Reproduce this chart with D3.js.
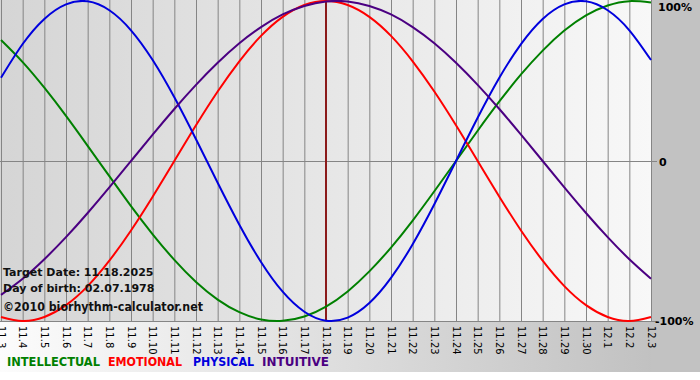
<!DOCTYPE html>
<html>
<head>
<meta charset="utf-8">
<script src="https://cdn.jsdelivr.net/npm/d3@7"></script>
<style>
  body { margin: 0; background: #fff; }
  svg { display: block; }
  text { font-family: "DejaVu Sans", Verdana, sans-serif; }
</style>
</head>
<body>
<div id="chart"></div>
<script>
// days shown on the x axis (11.3 .. 12.3)
var days = ["11.3","11.4","11.5","11.6","11.7","11.8","11.9","11.10","11.11","11.12",
  "11.13","11.14","11.15","11.16","11.17","11.18","11.19","11.20","11.21","11.22",
  "11.23","11.24","11.25","11.26","11.27","11.28","11.29","11.30","12.1","12.2","12.3"];

// values, one per day (-1 .. 1)
var intellectual = [0.756, 0.618, 0.458, 0.282, 0.095, -0.095, -0.282, -0.458, -0.618, -0.756,
  -0.866, -0.945, -0.990, -0.999, -0.972, -0.910, -0.815, -0.690, -0.541, -0.372,
  -0.189, 0.000, 0.189, 0.372, 0.541, 0.690, 0.815, 0.910, 0.972, 0.999, 0.990];
var emotional = [-0.975, -1.000, -0.975, -0.901, -0.782, -0.623, -0.434, -0.223, 0.000, 0.223,
  0.434, 0.623, 0.782, 0.901, 0.975, 1.000, 0.975, 0.901, 0.782, 0.623,
  0.434, 0.223, 0.000, -0.223, -0.434, -0.623, -0.782, -0.901, -0.975, -1.000, -0.975];
var physical = [0.520, 0.731, 0.888, 0.979, 0.998, 0.942, 0.817, 0.631, 0.398, 0.136,
  -0.136, -0.398, -0.631, -0.817, -0.942, -0.998, -0.979, -0.888, -0.731, -0.520,
  -0.270, 0.000, 0.270, 0.520, 0.731, 0.888, 0.979, 0.998, 0.942, 0.817, 0.631];
var intuitive = [-0.837, -0.736, -0.614, -0.476, -0.325, -0.165, 0.000, 0.165, 0.325, 0.476,
  0.614, 0.736, 0.837, 0.916, 0.969, 0.997, 0.997, 0.969, 0.916, 0.837,
  0.736, 0.614, 0.476, 0.325, 0.165, 0.000, -0.165, -0.325, -0.476, -0.614, -0.736];

var targetIndex = 15; // 11.18
var yTicks = [1, 0, -1];
var yTickLabels = ["100%", "0", "-100%"];

var series = [
  {name: "INTELLECTUAL", values: intellectual, color: "#008000"},
  {name: "EMOTIONAL", values: emotional, color: "#ff0000"},
  {name: "PHYSICAL", values: physical, color: "#0000dd"},
  {name: "INTUITIVE", values: intuitive, color: "#4b0082"}
];

var svgWidth = 700, svgHeight = 380;
var plot = {left: 1, right: 651, top: 1, bottom: 321};

var svg = d3.select("#chart").append("svg")
  .attr("width", svgWidth)
  .attr("height", svgHeight);

var defs = svg.append("defs");
var g1 = defs.append("linearGradient").attr("id", "plotBg")
  .attr("x1", "0").attr("x2", "1").attr("y1", "0").attr("y2", "0");
g1.append("stop").attr("offset", "0").attr("stop-color", "#d5d5d5");
g1.append("stop").attr("offset", "1").attr("stop-color", "#f8f8f8");
var g2 = defs.append("linearGradient").attr("id", "bottomBg")
  .attr("x1", "0").attr("x2", "1").attr("y1", "0").attr("y2", "0");
g2.append("stop").attr("offset", "0").attr("stop-color", "#fcfcfc");
g2.append("stop").attr("offset", "1").attr("stop-color", "#bdbdbd");

// backgrounds
svg.append("rect").attr("x", 0).attr("y", plot.bottom).attr("width", svgWidth)
  .attr("height", 372 - plot.bottom).attr("fill", "url(#bottomBg)");
svg.append("rect").attr("x", plot.right).attr("y", 0).attr("width", svgWidth - plot.right)
  .attr("height", 372).attr("fill", "#c2c2c2");
svg.append("rect").attr("x", 0).attr("y", 0).attr("width", plot.right)
  .attr("height", plot.bottom).attr("fill", "url(#plotBg)");

var x = d3.scaleLinear().domain([0, days.length - 1]).range([plot.left, plot.right]);
var y = d3.scaleLinear().domain([-1, 1]).range([plot.bottom, plot.top]);

// vertical grid
svg.append("g").selectAll("line").data(days).enter().append("line")
  .attr("x1", (d, i) => x(i) + 0.5).attr("x2", (d, i) => x(i) + 0.5)
  .attr("y1", 0).attr("y2", plot.bottom + 1)
  .attr("stroke", "#858585").attr("stroke-width", 1);

// horizontal lines at 0 / -100
svg.append("g").selectAll("line").data(yTicks.filter(d => d !== 1)).enter().append("line")
  .attr("x1", 0).attr("x2", plot.right + 6)
  .attr("y1", d => Math.round(y(d)) + 0.5).attr("y2", d => Math.round(y(d)) + 0.5)
  .attr("stroke", "#858585").attr("stroke-width", 1);

// x labels, rotated
svg.append("g").selectAll("text").data(days).enter().append("text")
  .attr("transform", (d, i) => `translate(${x(i) - 3.5}, ${plot.bottom + 5}) rotate(90)`)
  .attr("font-size", "10px")
  .attr("fill", "#000")
  .text(d => d);

// right labels
var rightX = [658, 659, 655];
var rightY = [11, 166, 325];
svg.append("g").selectAll("text").data(yTicks).enter().append("text")
  .attr("x", (d, i) => rightX[i])
  .attr("y", (d, i) => rightY[i])
  .attr("font-size", "11px").attr("font-weight", "bold")
  .text((d, i) => yTickLabels[i]);

// target date line
svg.append("line")
  .attr("x1", x(targetIndex)).attr("x2", x(targetIndex))
  .attr("y1", 0).attr("y2", plot.bottom)
  .attr("stroke", "#8b1a1a").attr("stroke-width", 2);

// curves
var line = d3.line()
  .x((d, i) => x(i))
  .y(d => y(d))
  .curve(d3.curveNatural);

svg.append("g").selectAll("path").data(series).enter().append("path")
  .attr("d", d => line(d.values))
  .attr("fill", "none")
  .attr("stroke", d => d.color)
  .attr("stroke-width", 2);

// info text
var info = svg.append("g").attr("font-weight", "bold").attr("fill", "#111");
info.append("text").attr("x", 3).attr("y", 276).attr("font-size", "11px").text("Target Date: 11.18.2025");
info.append("text").attr("x", 3).attr("y", 292).attr("font-size", "11px").text("Day of birth: 02.07.1978");
info.append("text").attr("x", 3).attr("y", 311).attr("font-size", "12px")
  .attr("textLength", 200).attr("lengthAdjust", "spacingAndGlyphs")
  .text("\u00a92010 biorhythm-calculator.net");

// legend
var legendX = [7, 108, 193, 262];
var legendW = [93, 74, 61, 67];
svg.append("g").selectAll("text").data(series).enter().append("text")
  .attr("x", (d, i) => legendX[i]).attr("y", 366)
  .attr("font-size", "12px").attr("font-weight", "bold")
  .attr("textLength", (d, i) => legendW[i]).attr("lengthAdjust", "spacingAndGlyphs")
  .attr("fill", d => d.color)
  .text(d => d.name);
</script>
</body>
</html>
